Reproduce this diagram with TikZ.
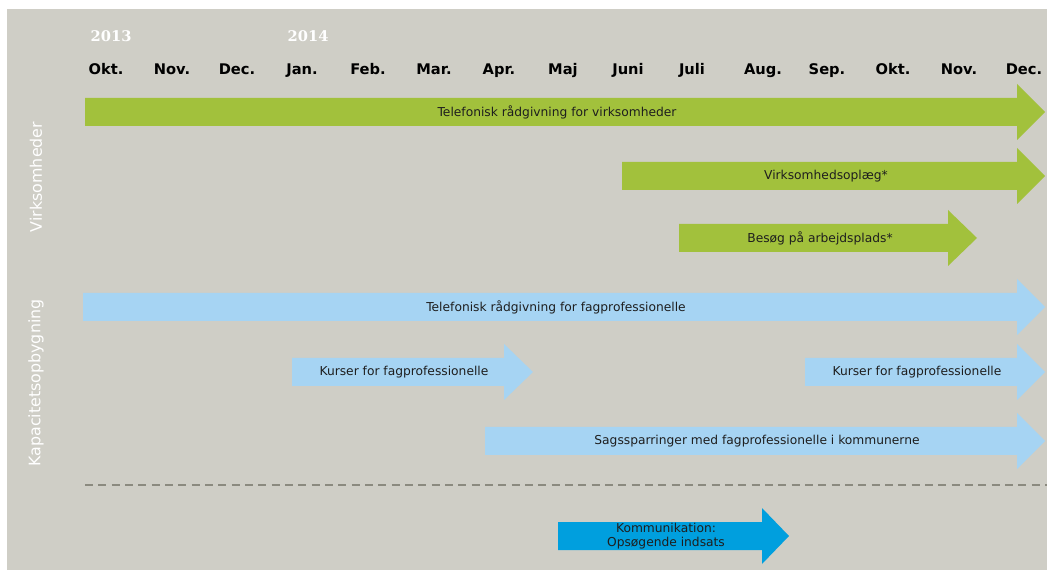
\documentclass[tikz,border=0pt]{standalone}
\usepackage{fontspec}
\setmainfont{DejaVu Sans}
\newfontfamily\yearfont{DejaVu Serif}
\definecolor{panelgray}{HTML}{CFCEC6}
\definecolor{firmgreen}{HTML}{A2C13C}
\definecolor{proflightblue}{HTML}{A6D4F3}
\definecolor{commblue}{HTML}{009FDE}
\definecolor{dashgray}{HTML}{8B8A7F}
\definecolor{labeltext}{HTML}{1E1E1E}

\begin{document}
\begin{tikzpicture}[x=0.75pt, y=-0.75pt,
    month/.style={font=\fontsize{11}{13}\selectfont\bfseries, text=black, anchor=base},
    yearlabel/.style={font=\yearfont\fontsize{11}{13}\selectfont\bfseries, text=white, anchor=base west},
    sidelabel/.style={font=\fontsize{11.9}{14}\selectfont, text=white, rotate=90},
    bartext/.style={font=\fontsize{9.2}{11}\selectfont, text=labeltext, align=center}]
\useasboundingbox (0,0) rectangle (1047,570);
% Panel
    \fill[panelgray] (7,9) rectangle (1047,570);
% Years
    \node[yearlabel] (y2013) at (86,42) {2013};
    \node[yearlabel] (y2014) at (283,42) {2014};
% Months
    \node[month] (m1) at (106,75) {Okt.};
    \node[month] (m2) at (172,75) {Nov.};
    \node[month] (m3) at (237,75) {Dec.};
    \node[month] (m4) at (302,75) {Jan.};
    \node[month] (m5) at (368,75) {Feb.};
    \node[month] (m6) at (434,75) {Mar.};
    \node[month] (m7) at (499,75) {Apr.};
    \node[month] (m8) at (563,75) {Maj};
    \node[month] (m9) at (628,75) {Juni};
    \node[month] (m10) at (692,75) {Juli};
    \node[month] (m11) at (763,75) {Aug.};
    \node[month] (m12) at (827,75) {Sep.};
    \node[month] (m13) at (893,75) {Okt.};
    \node[month] (m14) at (959,75) {Nov.};
    \node[month] (m15) at (1024,75) {Dec.};
% Side labels
    \node[sidelabel] (firms) at (36,177) {Virksomheder};
    \node[sidelabel] (capacity) at (36,383) {Kapacitetsopbygning};
% Green arrows
    \fill[firmgreen] (85,98) -- (1017,98) -- (1017,84) -- (1045,112) -- (1017,140) -- (1017,126) -- (85,126) -- cycle;
    \fill[firmgreen] (622,162) -- (1017,162) -- (1017,148) -- (1045,176) -- (1017,204) -- (1017,190) -- (622,190) -- cycle;
    \fill[firmgreen] (679,224) -- (948,224) -- (948,210) -- (977,238) -- (948,266) -- (948,252) -- (679,252) -- cycle;
    \node[bartext] (phone1) at (557,112) {Telefonisk rådgivning for virksomheder};
    \node[bartext] (talk) at (826,176) {Virksomhedsoplæg*};
    \node[bartext] (visit) at (820,238) {Besøg på arbejdsplads*};
% Blue arrows
    \fill[proflightblue] (83,293) -- (1017,293) -- (1017,279) -- (1045,307) -- (1017,335) -- (1017,321) -- (83,321) -- cycle;
    \fill[proflightblue] (292,358) -- (504,358) -- (504,344) -- (533,372) -- (504,400) -- (504,386) -- (292,386) -- cycle;
    \fill[proflightblue] (805,358) -- (1017,358) -- (1017,344) -- (1045,372) -- (1017,400) -- (1017,386) -- (805,386) -- cycle;
    \fill[proflightblue] (485,427) -- (1017,427) -- (1017,413) -- (1045,441) -- (1017,469) -- (1017,455) -- (485,455) -- cycle;
    \node[bartext] (phone2) at (556,307) {Telefonisk rådgivning for fagprofessionelle};
    \node[bartext] (course1) at (404,372) {Kurser for fagprofessionelle};
    \node[bartext] (course2) at (917,372) {Kurser for fagprofessionelle};
    \node[bartext] (sparring) at (757,441) {Sagssparringer med fagprofessionelle i kommunerne};
% Divider
    \draw[dashgray, line width=1.3pt, dash pattern=on 6pt off 4pt] (85,485) -- (1047,485);
% Communication arrow
    \fill[commblue] (558,522) -- (762,522) -- (762,508) -- (789,536) -- (762,564) -- (762,550) -- (558,550) -- cycle;
    \node[bartext, font=\fontsize{9.2}{10.6}\selectfont] (comm) at (666,536) {Kommunikation:\\Opsøgende indsats};
\end{tikzpicture}
\end{document}
